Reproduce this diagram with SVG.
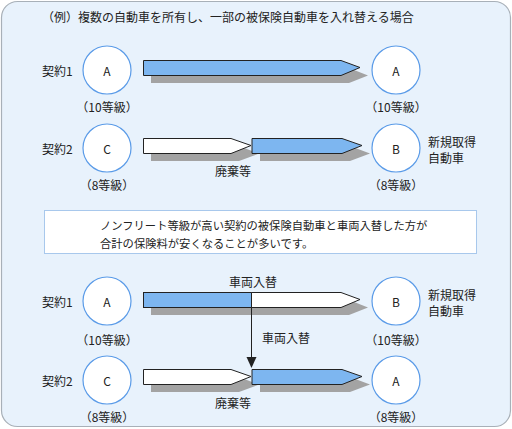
<svg xmlns="http://www.w3.org/2000/svg" width="512" height="429" viewBox="0 0 512 429">
<defs>
<style>
text{font-family:"Noto Sans CJK JP","Noto Sans",sans-serif;font-size:12px;fill:#222;dominant-baseline:central}
.c{text-anchor:middle}
.circ{fill:#fff;stroke:#5a9be8;stroke-width:1.2}
.sh{fill:#a3a3a3}
.blue{fill:#7db6f0;stroke:#222;stroke-width:1}
.white{fill:#fff;stroke:#222;stroke-width:1}
</style>
</defs>
<rect x="1.5" y="1.5" width="509" height="425" rx="16" fill="#e8f2fc" stroke="#a8b0b8" stroke-width="1.2"/>
<text x="42" y="16">（例）複数の自動車を所有し、一部の被保険自動車を入れ替える場合</text>

<g id="row1">
<text x="42" y="70">契約1</text>
<circle class="circ" cx="107" cy="70" r="24"/><text class="c" x="107" y="70">A</text>
<text class="c" x="107" y="106">（10等級）</text>
<circle class="circ" cx="396" cy="70" r="24"/><text class="c" x="396" y="70">A</text>
<text class="c" x="396" y="106">（10等級）</text>
</g>
<g id="row2">
<text x="42" y="148">契約2</text>
<circle class="circ" cx="107" cy="148" r="24"/><text class="c" x="107" y="148">C</text>
<text class="c" x="107" y="184">（8等級）</text>
<circle class="circ" cx="396" cy="148" r="24"/><text class="c" x="396" y="148">B</text>
<text class="c" x="396" y="184">（8等級）</text>
<text x="428" y="141">新規取得</text>
<text x="428" y="157">自動車</text>
</g>
<g id="note">
<rect x="44.5" y="210.5" width="432" height="43" fill="#fff" stroke="#a8c8ec" stroke-width="1"/>
<text x="100" y="225" style="font-size:11.3px">ノンフリート等級が高い契約の被保険自動車と車両入替した方が</text>
<text x="100" y="243" style="font-size:11.3px">合計の保険料が安くなることが多いです。</text>
</g>
<g id="row3">
<text x="42" y="301">契約1</text>
<circle class="circ" cx="107" cy="301" r="24"/><text class="c" x="107" y="301">A</text>
<text class="c" x="107" y="339">（10等級）</text>
<circle class="circ" cx="396" cy="301" r="24"/><text class="c" x="396" y="301">B</text>
<text class="c" x="396" y="339">（10等級）</text>
<text x="428" y="294">新規取得</text>
<text x="428" y="310">自動車</text>
</g>
<g id="row4">
<text x="42" y="380">契約2</text>
<circle class="circ" cx="107" cy="380" r="24"/><text class="c" x="107" y="380">C</text>
<text class="c" x="107" y="416">（8等級）</text>
<circle class="circ" cx="396" cy="380" r="24"/><text class="c" x="396" y="380">A</text>
<text class="c" x="396" y="416">（8等級）</text>
</g>

<g id="connectors">
<polygon class="sh" points="151,68 349,68 368,75.5 349,83 151,83"/>
<polygon class="blue" points="143.5,60.5 341,60.5 360,67.5 341,75.5 143.5,75.5"/>
<polygon class="sh" points="151,146 239,146 259,153.5 239,161 151,161"/>
<polygon class="sh" points="260,146 350,146 370,153.5 350,161 260,161"/>
<polygon class="white" points="143.5,138.5 231,138.5 251,145.5 231,153.5 143.5,153.5"/>
<polygon class="blue" points="252,138.5 342,138.5 362,145.5 342,153.5 252,153.5"/>
<text class="c" x="233" y="170">廃棄等</text>
<polygon class="sh" points="151,300 349,300 368,307.5 349,315 151,315"/>
<rect class="blue" x="143.5" y="292.5" width="108" height="15"/>
<polygon class="white" points="251.5,292.5 341,292.5 360,299.5 341,307.5 251.5,307.5"/>
<text class="c" x="253" y="281">車両入替</text>
<line x1="251.5" y1="307.5" x2="251.5" y2="358" stroke="#222" stroke-width="1"/>
<polygon points="246.5,357 256.5,357 251.5,368" fill="#222"/>
<text x="262" y="337">車両入替</text>
<polygon class="sh" points="151,377 239,377 259,384.5 239,392 151,392"/>
<polygon class="sh" points="260,377 350,377 370,384.5 350,392 260,392"/>
<polygon class="white" points="143.5,369.5 231,369.5 251,376.5 231,384.5 143.5,384.5"/>
<polygon class="blue" points="252,369.5 342,369.5 362,376.5 342,384.5 252,384.5"/>
<text class="c" x="233" y="402">廃棄等</text>
</g>
</svg>
